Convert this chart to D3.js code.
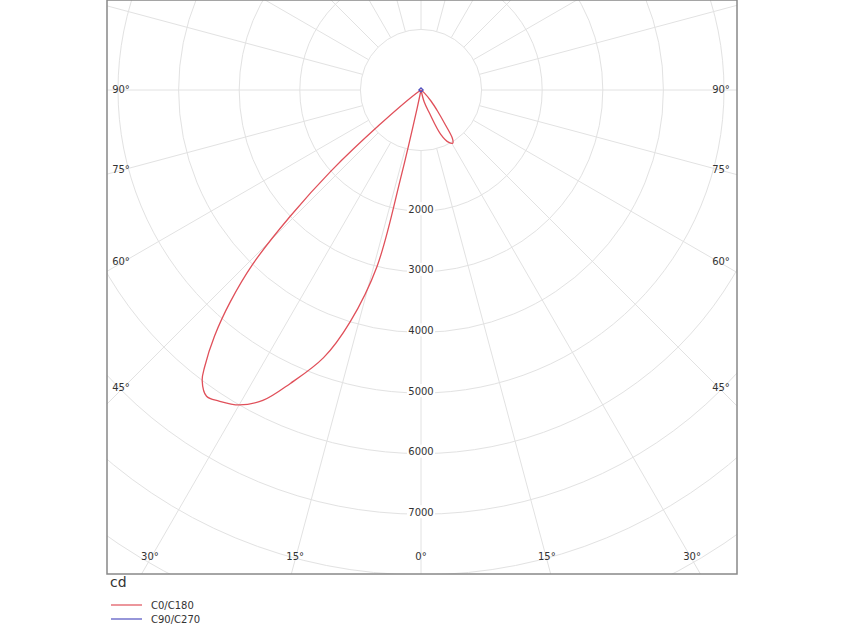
<!DOCTYPE html>
<html lang="en">
<head>
<meta charset="UTF-8">
<title>Polar intensity</title>
<script src="https://cdn.jsdelivr.net/npm/d3@7/dist/d3.min.js"></script>
<style>
  body { margin: 0; background: #fff; }
  text { font-family: "DejaVu Sans", sans-serif; }
</style>
</head>
<body>
<div id="chart"></div>
<script>
const width = 844, height = 633;
const frame = { left: 107, top: 0, right: 737, bottom: 574 };
const cx = 421, cy = 90;

// rings (cd) and angle lines (deg from nadir)
const ringValues = d3.range(1000, 13000, 1000);
const ringLabels = [2000, 3000, 4000, 5000, 6000, 7000];
const spokeAngles = d3.range(-180, 180, 15);
const bottomLabels = [-30, -15, 0, 15, 30];
const sideLabels = [45, 60, 75, 90];

// C0/C180 curve: signed angle (negative = left side), intensity cd
const c0Angles = [0, -12, -13, -14, -17, -20, -24, -27, -30, -33, -35, -37, -38, -40, -42, -44, -46, -48, -50, -55, -90];
const c0Values = [0, 300, 1500, 3000, 4000, 4700, 5300, 5750, 6000, 6120, 6170, 6000, 5800, 5300, 4700, 4000, 3000, 2000, 900, 100, 0];
const c0bAngles = [0, 15, 20, 24, 28, 31, 33, 35, 38, 42, 50, 90];
const c0bValues = [0, 200, 400, 800, 980, 1020, 950, 700, 450, 250, 60, 0];
// C90/C270 curve (tiny)
const c90Angles = [0, 90, 180, -90, 0];
const c90Values = [35, 35, 35, 35, 35];

const r = d3.scaleLinear().domain([0, 1000]).range([0, 60.6]);
const px = (a, v) => cx + r(v) * Math.sin(a * Math.PI / 180);
const py = (a, v) => cy + r(v) * Math.cos(a * Math.PI / 180);

const svg = d3.select('#chart').append('svg').attr('width', width).attr('height', height);
svg.append('clipPath').attr('id', 'clip').append('rect')
  .attr('x', frame.left).attr('y', frame.top)
  .attr('width', frame.right - frame.left).attr('height', frame.bottom - frame.top);

const g = svg.append('g').attr('clip-path', 'url(#clip)');

// grid
g.selectAll('.ring').data(ringValues).enter().append('circle')
  .attr('cx', cx).attr('cy', cy).attr('r', d => r(d))
  .attr('fill', 'none').attr('stroke', '#e2e2e2').attr('stroke-width', 1);
g.selectAll('.spoke').data(spokeAngles).enter().append('line')
  .attr('x1', d => px(d, 1000)).attr('y1', d => py(d, 1000))
  .attr('x2', d => px(d, 14000)).attr('y2', d => py(d, 14000))
  .attr('stroke', '#e2e2e2').attr('stroke-width', 1);

// ring labels
const rl = g.selectAll('.rl').data(ringLabels).enter().append('g')
  .attr('transform', d => `translate(${cx},${py(0, d) - 2})`);
rl.append('rect').attr('x', -14).attr('y', -7).attr('width', 28).attr('height', 13).attr('fill', '#fff');
rl.append('text').attr('text-anchor', 'middle').attr('dy', '0.35em')
  .attr('font-size', 10).attr('fill', '#333').text(d => d);

// angle labels
svg.selectAll('.bl').data(bottomLabels).enter().append('text')
  .attr('x', d => cx + (frame.bottom - cy) * Math.tan(Math.abs(d) * Math.PI / 180) * Math.sign(d) * 0.97)
  .attr('y', frame.bottom - 14)
  .attr('text-anchor', 'middle').attr('font-size', 10).attr('fill', '#333')
  .text(d => Math.abs(d) + '°');
[-1, 1].forEach(s => {
  svg.selectAll('.sl' + s).data(sideLabels).enter().append('text')
    .attr('x', s < 0 ? frame.left + 14 : frame.right - 16)
    .attr('y', d => cy + (cx - frame.left) / Math.tan(d * Math.PI / 180) * 0.95 + 3)
    .attr('text-anchor', 'middle').attr('font-size', 10).attr('fill', '#333')
    .text(d => d + '°');
});

// curves
const line = d3.line().x(d => px(d[0], d[1])).y(d => py(d[0], d[1])).curve(d3.curveCatmullRom);
[[c0Angles, c0Values], [c0bAngles, c0bValues]].forEach(s => {
  g.append('path').attr('d', line(d3.zip(s[0], s[1])))
    .attr('fill', 'none').attr('stroke', '#e0505a').attr('stroke-width', 1.3);
});
g.append('path').attr('d', d3.line().x(d => px(d[0], d[1])).y(d => py(d[0], d[1]))(d3.zip(c90Angles, c90Values)))
  .attr('fill', 'none').attr('stroke', '#5050c0').attr('stroke-width', 1.3);

// frame
svg.append('rect').attr('x', frame.left).attr('y', frame.top)
  .attr('width', frame.right - frame.left).attr('height', frame.bottom - frame.top)
  .attr('fill', 'none').attr('stroke', '#888').attr('stroke-width', 1.5);

svg.append('text').attr('x', 110).attr('y', 587).attr('font-size', 14).attr('fill', '#333').text('cd');

const legend = [['C0/C180', '#e0505a'], ['C90/C270', '#5050c0']];
legend.forEach((d, i) => {
  const y = 605 + i * 14;
  svg.append('line').attr('x1', 111).attr('x2', 142).attr('y1', y).attr('y2', y)
    .attr('stroke', d[1]).attr('stroke-width', 1.2);
  svg.append('text').attr('x', 151).attr('y', y + 3.5).attr('font-size', 10).attr('fill', '#333').text(d[0]);
});
</script>
</body>
</html>
